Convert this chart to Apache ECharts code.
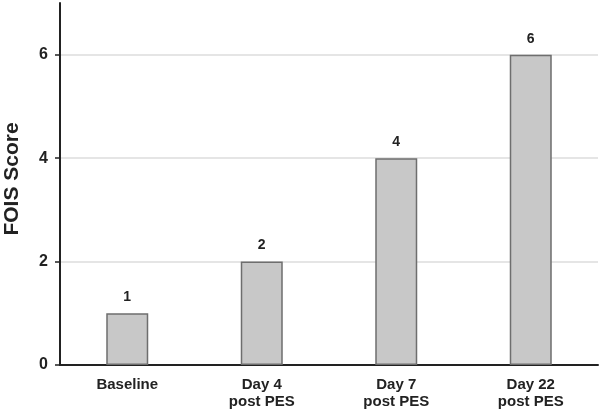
<!DOCTYPE html>
<html>
<head>
<meta charset="utf-8">
<script src="https://cdn.jsdelivr.net/npm/echarts@6/dist/echarts.min.js"></script>
<style>
  html, body { margin: 0; padding: 0; background: #fff; }
  #chart { width: 602px; height: 410px; }
</style>
</head>
<body>
<div id="chart"></div>
<script>
// chart data
const categories = ["Baseline", "Day 4\npost PES", "Day 7\npost PES", "Day 22\npost PES"];
const foisScores = [1, 2, 4, 6];
const yTicks = [0, 2, 4, 6];

const chart = echarts.init(document.getElementById("chart"));

chart.setOption({
  animation: false,
  grid: { left: 60, right: 4, top: 3, bottom: 45, outerBoundsMode: "none" },
  xAxis: {
    type: "category",
    data: categories,
    axisLine: { lineStyle: { color: "#222", width: 2 } },
    axisTick: { show: false },
    axisLabel: {
      color: "#222",
      fontFamily: "Liberation Sans, Arial, sans-serif",
      fontWeight: "bold",
      fontSize: 15,
      lineHeight: 17,
      margin: 11
    }
  },
  yAxis: {
    type: "value",
    min: 0,
    max: 7,
    interval: 2,
    name: "FOIS Score",
    nameLocation: "middle",
    nameGap: 37,
    nameMoveOverlap: false,
    nameTextStyle: {
      color: "#222",
      fontFamily: "Liberation Sans, Arial, sans-serif",
      fontWeight: "bold",
      fontSize: 21,
      padding: [0, 0, 0, 10]
    },
    axisLine: { show: true, lineStyle: { color: "#222", width: 2 } },
    axisTick: {
      show: true,
      length: 5,
      customValues: yTicks,
      lineStyle: { color: "#222", width: 1.5 }
    },
    axisLabel: {
      customValues: yTicks,
      color: "#222",
      fontFamily: "Liberation Sans, Arial, sans-serif",
      fontWeight: "bold",
      fontSize: 16,
      margin: 12
    },
    splitLine: {
      show: true,
      lineStyle: { color: ["#dcdcdc", "#dcdcdc", "#dcdcdc", "#dcdcdc", "rgba(0,0,0,0)"], width: 1.5 }
    }
  },
  series: [
    {
      type: "bar",
      data: foisScores,
      barWidth: 42,
      itemStyle: {
        color: "#c8c8c8",
        borderColor: "#6e6e6e",
        borderWidth: 1.5
      },
      label: {
        show: true,
        position: "top",
        distance: 9,
        color: "#222",
        fontFamily: "Liberation Sans, Arial, sans-serif",
        fontWeight: "bold",
        fontSize: 14
      }
    }
  ]
});
</script>
</body>
</html>
